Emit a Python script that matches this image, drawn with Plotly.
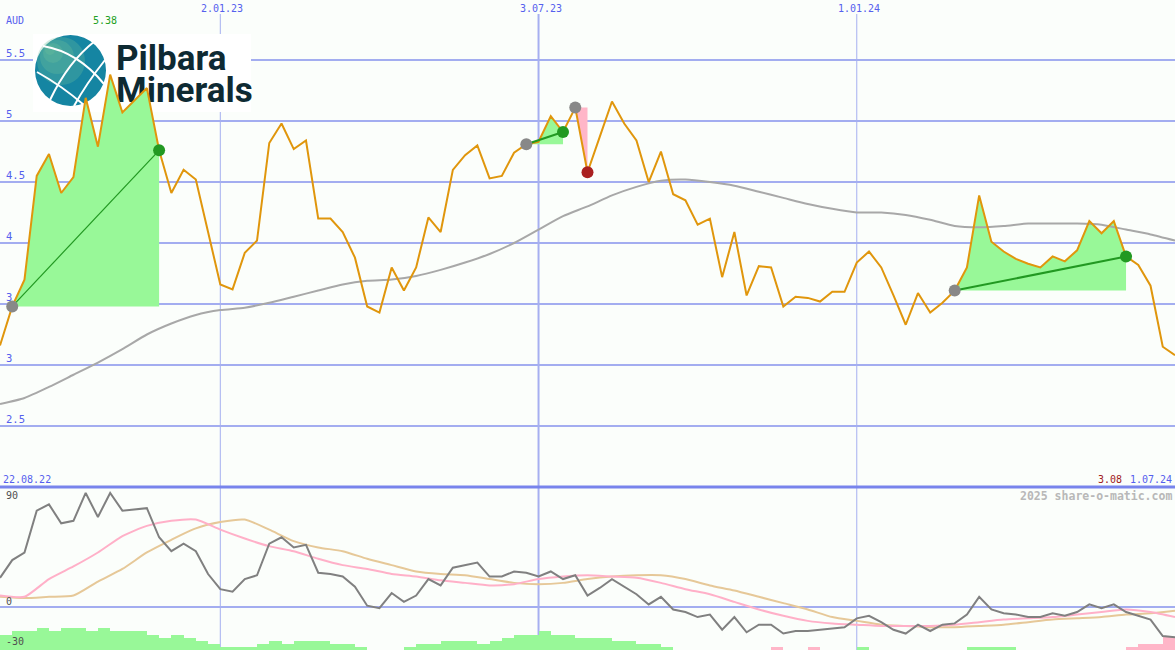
import plotly.graph_objects as go

W, H = 1175, 650

# ---------------- data ----------------
start_label = "22.08.22"
end_label = "1.07.24"
date_labels = ["2.01.23", "3.07.23", "1.01.24"]
date_weeks = [18, 44, 70]
currency = "AUD"

# weekly closing prices (week 0 .. 96)
price = [3.16, 3.48, 3.70, 4.55, 4.73, 4.41, 4.54, 5.19, 4.79, 5.38,
         5.07, 5.17, 5.27, 4.76, 4.41, 4.60, 4.52, 4.09, 3.66, 3.62,
         3.92, 4.02, 4.82, 4.98, 4.77, 4.84, 4.20, 4.20, 4.09, 3.88,
         3.48, 3.43, 3.80, 3.61, 3.80, 4.21, 4.09, 4.60, 4.72, 4.80,
         4.53, 4.55, 4.74, 4.81, 4.83, 5.04, 4.91, 5.11, 4.58, 4.87,
         5.16, 4.98, 4.84, 4.50, 4.75, 4.40, 4.35, 4.15, 4.20, 3.72,
         4.09, 3.57, 3.81, 3.80, 3.48, 3.56, 3.55, 3.52, 3.60, 3.60,
         3.84, 3.93, 3.80, 3.57, 3.33, 3.59, 3.43, 3.51, 3.61, 3.80,
         4.39, 4.01, 3.93, 3.87, 3.83, 3.80, 3.89, 3.85, 3.94, 4.18,
         4.08, 4.18, 3.89, 3.82, 3.65, 3.15, 3.08]

# slow moving average, sampled every 2 weeks
ma_weeks = list(range(0, 97, 2))
ma_slow = [2.68, 2.73, 2.82, 2.92, 3.02, 3.13, 3.25, 3.34, 3.41, 3.45,
           3.47, 3.51, 3.56, 3.61, 3.66, 3.69, 3.70, 3.73, 3.78, 3.84,
           3.91, 4.00, 4.11, 4.22, 4.30, 4.39, 4.46, 4.51, 4.52, 4.50,
           4.47, 4.42, 4.37, 4.32, 4.28, 4.25, 4.25, 4.23, 4.19, 4.14,
           4.13, 4.14, 4.16, 4.16, 4.16, 4.15, 4.11, 4.07, 4.02]

# signals: (start week, end week, kind)
signals = [(1, 13, "up"), (43, 46, "up"), (47, 48, "down"), (78, 92, "up")]

# lower panel: oscillator (weekly)
osc = [23, 37, 43, 76, 81, 66, 68, 90, 71, 90,
       76, 77, 78, 55, 44, 50, 44, 26, 14, 12,
       22, 25, 50, 55, 47, 49, 27, 26, 24, 16,
       1, -1, 11, 4, 9, 22, 17, 31, 33, 35,
       24, 24, 28, 27, 24, 28, 22, 25, 9, 15,
       22, 16, 10, 2, 8, -2, -4, -8, -6, -18,
       -8, -20, -14, -14, -21, -19, -19, -18, -17, -16,
       -9, -7, -12, -18, -21, -14, -19, -14, -13, -6,
       8, -2, -5, -6, -8, -8, -5, -7, -4, 2,
       -1, 2, -4, -7, -10, -23, -24]

# two smoothed lines, sampled every 2 weeks
osc_fast = [9, 8, 22, 32, 43, 56, 64, 68, 69, 61,
            54, 48, 44, 38, 33, 30, 26, 24, 21, 19,
            17, 18, 22, 24, 25, 24, 23, 19, 14, 10,
            4, -2, -7, -11, -13, -14, -15, -15, -15, -14,
            -12, -10, -9, -8, -6, -4, -2, -4, -8]
osc_slow = [8, 7, 8, 9, 20, 30, 43, 53, 62, 67,
            69, 61, 52, 47, 44, 38, 33, 28, 26, 25,
            22, 19, 18, 19, 22, 24, 25, 25, 22, 17,
            13, 8, 3, -2, -8, -11, -14, -15, -16, -16,
            -15, -14, -12, -10, -9, -8, -6, -5, -3]

# histogram per week interval (positive green, negative pink)
hist = [12, 15, 15, 17.5, 15, 17.5, 17.5, 15, 17.5, 15,
        15, 15, 12, 9.5, 12, 9.5, 7, 4.7, 2.4, 2.4,
        2.4, 4.7, 7, 4.7, 7, 7, 7, 4.7, 4.7, 2.4,
        0, 0, 0, 2.4, 4.7, 4.7, 7, 7, 7, 4.7,
        7, 9.5, 12, 12, 15, 12, 12, 9.5, 9.5, 9.5,
        7, 7, 4.7, 4.7, 2.4, 0, 0, 0, 0, 0,
        0, 0, 0, -2.4, 0, 0, -2.4, 0, 0, 0,
        2.4, 0, 0, 0, 0, 0, 0, 0, 0, 2.4,
        2.4, 2.4, 2.4, 0, 0, 0, 0, 0, 0, 0,
        0, 0, -2.4, -4.7, -4.7, -10.3]

price_ticks = [2.5, 3, 3.5, 4, 4.5, 5, 5.5]
osc_ticks = [90, 0, -30]

# ---------------- styling ----------------
BG = "#fbfefb"
GRID = "#a3adf0"
SEP = "#7884ec"
BLUE_TXT = "#5560ee"
MONO = "DejaVu Sans Mono"
PRICE_C = "#e0960c"
GREEN_FILL = "#98f898"
PINK_FILL = "#ffb6c8"

X_MAX = 96.0
Y_MIN, Y_MAX = 2.0, 5.992
Y2_MIN, Y2_MAX = -34, 94.7
SPLIT = 163 / H

weeks = list(range(len(price)))


def pxx(x):
    return x / W


def pyy(y):
    return 1 - y / H


def data_x(px):
    return px / W * X_MAX


def data_y(py):
    return Y_MAX - py / (H * (1 - SPLIT)) * (Y_MAX - Y_MIN)


fig = go.Figure()

# y labels of the price panel (drawn first so marks can cover them)
fig.add_trace(go.Scatter(
    x=[data_x(6)] * len(price_ticks), y=price_ticks,
    text=[("%g" % v) for v in price_ticks], mode="text",
    textposition="top right", cliponaxis=False,
    textfont=dict(family=MONO, size=10.5, color=BLUE_TXT),
    hoverinfo="skip"))

# logo words
fig.add_trace(go.Scatter(
    x=[data_x(116), data_x(116)], y=[data_y(61), data_y(93)],
    text=["Pilbara", "Minerals"], mode="text",
    textposition="middle right", cliponaxis=False,
    textfont=dict(family="Roboto", size=35, color="#0e2a33", weight="bold"),
    hoverinfo="skip"))

# signal fills
for s, e, kind in signals:
    base = price[s]
    xs = weeks[s:e + 1] + [e, s]
    ys = price[s:e + 1] + [base, base]
    fig.add_trace(go.Scatter(
        x=xs, y=ys, mode="lines", fill="toself",
        fillcolor=GREEN_FILL if kind == "up" else PINK_FILL,
        line=dict(width=0), hoverinfo="skip"))

# slow MA
fig.add_trace(go.Scatter(x=ma_weeks, y=ma_slow, mode="lines",
                         line=dict(color="#a8a8a8", width=2, shape="spline", smoothing=0.6),
                         hoverinfo="skip"))

# price
fig.add_trace(go.Scatter(x=weeks, y=price, mode="lines",
                         line=dict(color=PRICE_C, width=2), hoverinfo="skip"))

# signal connectors and markers
for i, (s, e, kind) in enumerate(signals):
    if kind == "up":
        fig.add_trace(go.Scatter(x=[s, e], y=[price[s], price[e]], mode="lines",
                                 line=dict(color="#229922", width=1.2 if i == 0 else 2),
                                 hoverinfo="skip"))
for s, e, kind in signals:
    fig.add_trace(go.Scatter(
        x=[s, e], y=[price[s], price[e]], mode="markers",
        marker=dict(size=12, color=["#888888", "#229922" if kind == "up" else "#aa2020"],
                    line=dict(width=0)),
        hoverinfo="skip"))

# lower panel
bar_x = [i + 0.5 for i in range(len(hist))]
fig.add_trace(go.Bar(
    x=bar_x, y=[abs(v) for v in hist], base=Y2_MIN, width=1.0,
    marker=dict(color=[GREEN_FILL if v >= 0 else PINK_FILL for v in hist], line=dict(width=0)),
    yaxis="y2", hoverinfo="skip"))
fig.add_trace(go.Scatter(x=ma_weeks, y=osc_slow, mode="lines", yaxis="y2",
                         line=dict(color="#e6c898", width=2, shape="spline", smoothing=0.6),
                         hoverinfo="skip"))
fig.add_trace(go.Scatter(x=ma_weeks, y=osc_fast, mode="lines", yaxis="y2",
                         line=dict(color="#ffb0c8", width=2, shape="spline", smoothing=0.6),
                         hoverinfo="skip"))
fig.add_trace(go.Scatter(x=weeks, y=osc, mode="lines", yaxis="y2",
                         line=dict(color="#808080", width=2), hoverinfo="skip"))

# ---------------- shapes ----------------
shapes = []
for v in price_ticks:
    shapes.append(dict(type="line", xref="paper", yref="y", x0=0, x1=1, y0=v, y1=v,
                       line=dict(color=GRID, width=2), layer="below"))
shapes.append(dict(type="line", xref="paper", yref="y2", x0=0, x1=1, y0=0, y1=0,
                   line=dict(color=GRID, width=2), layer="below"))
for wk, lw in zip(date_weeks, [1, 2, 1]):
    shapes.append(dict(type="line", xref="x", yref="paper", x0=wk, x1=wk, y0=0, y1=pyy(14),
                       line=dict(color="#a6aff0", width=lw), layer="below"))
shapes.append(dict(type="line", xref="paper", yref="paper", x0=0, x1=1, y0=SPLIT, y1=SPLIT,
                   line=dict(color=SEP, width=3), layer="below"))

# logo background and globe
shapes.append(dict(type="rect", xref="paper", yref="paper", x0=pxx(33), x1=pxx(251),
                   y0=pyy(112), y1=pyy(34), fillcolor="white", line=dict(width=0),
                   layer="between"))
shapes.append(dict(type="circle", xref="paper", yref="paper", x0=pxx(35), x1=pxx(106),
                   y0=pyy(106), y1=pyy(35), fillcolor="#1585a2", line=dict(width=0),
                   layer="between"))
for (cx, cy, r) in [(61, 61, 24), (57, 57, 17), (53, 53, 10), (50, 50, 5)]:
    shapes.append(dict(type="circle", xref="paper", yref="paper",
                       x0=pxx(cx - r), x1=pxx(cx + r), y0=pyy(cy + r), y1=pyy(cy - r),
                       fillcolor="#6cbf9c", opacity=0.3, line=dict(width=0),
                       layer="between"))


def qpath(p0, c, p1):
    return "M %f %f Q %f %f %f %f" % (pxx(p0[0]), pyy(p0[1]), pxx(c[0]), pyy(c[1]),
                                       pxx(p1[0]), pyy(p1[1]))


for p0, c, p1 in [((43, 46), (78, 52), (104, 84)),
                  ((37, 72), (62, 86), (84, 105)),
                  ((95, 41), (68, 62), (50, 100)),
                  ((105, 60), (86, 84), (74, 106))]:
    shapes.append(dict(type="path", xref="paper", yref="paper", path=qpath(p0, c, p1),
                       line=dict(color="white", width=2), layer="between"))

# ---------------- annotations ----------------
ann = []


def txt(x, y, t, color, anchor="left", size=10, weight="normal", xref="paper", xshift=0):
    ann.append(dict(x=x, y=y, xref=xref, yref="paper", text=t, showarrow=False,
                    xanchor=anchor, yanchor="middle", xshift=xshift,
                    font=dict(family=MONO, size=size, color=color, weight=weight)))


txt(pxx(4), pyy(20), currency, BLUE_TXT)
imax = price.index(max(price))
txt(imax, pyy(20), "%.2f" % max(price), "#22a022", anchor="center", xref="x", xshift=-5)
for lab, wk in zip(date_labels, date_weeks):
    txt(wk, pyy(8), lab, BLUE_TXT, anchor="center", xref="x", xshift=2)
txt(pxx(1), pyy(479), start_label, BLUE_TXT)
txt(pxx(1174), pyy(479), end_label, BLUE_TXT, anchor="right")
txt(pxx(1124), pyy(479), "%.2f" % price[-1], "#a02020", anchor="right")
txt(pxx(1174), pyy(496), "2025 share-o-matic.com", "#b8b8b8", anchor="right", size=11.5,
    weight="bold")
for v, ypx in zip(osc_ticks, [495, 601, 641]):
    txt(pxx(4), pyy(ypx), str(v), "#505050")

fig.update_layout(
    width=W, height=H, autosize=False,
    margin=dict(l=0, r=0, t=0, b=0, pad=0),
    paper_bgcolor=BG, plot_bgcolor=BG,
    showlegend=False, hovermode=False, bargap=0,
    xaxis=dict(range=[0, X_MAX], visible=False, fixedrange=True),
    yaxis=dict(range=[Y_MIN, Y_MAX], domain=[SPLIT, 1], visible=False, fixedrange=True),
    yaxis2=dict(range=[Y2_MIN, Y2_MAX], domain=[0, SPLIT], visible=False, anchor="x",
                fixedrange=True),
    shapes=shapes, annotations=ann,
)

fig.write_html("out.html", config={"displayModeBar": False, "staticPlot": True},
               post_script="document.body.style.margin='0';"
                           "document.body.style.overflow='hidden';")
